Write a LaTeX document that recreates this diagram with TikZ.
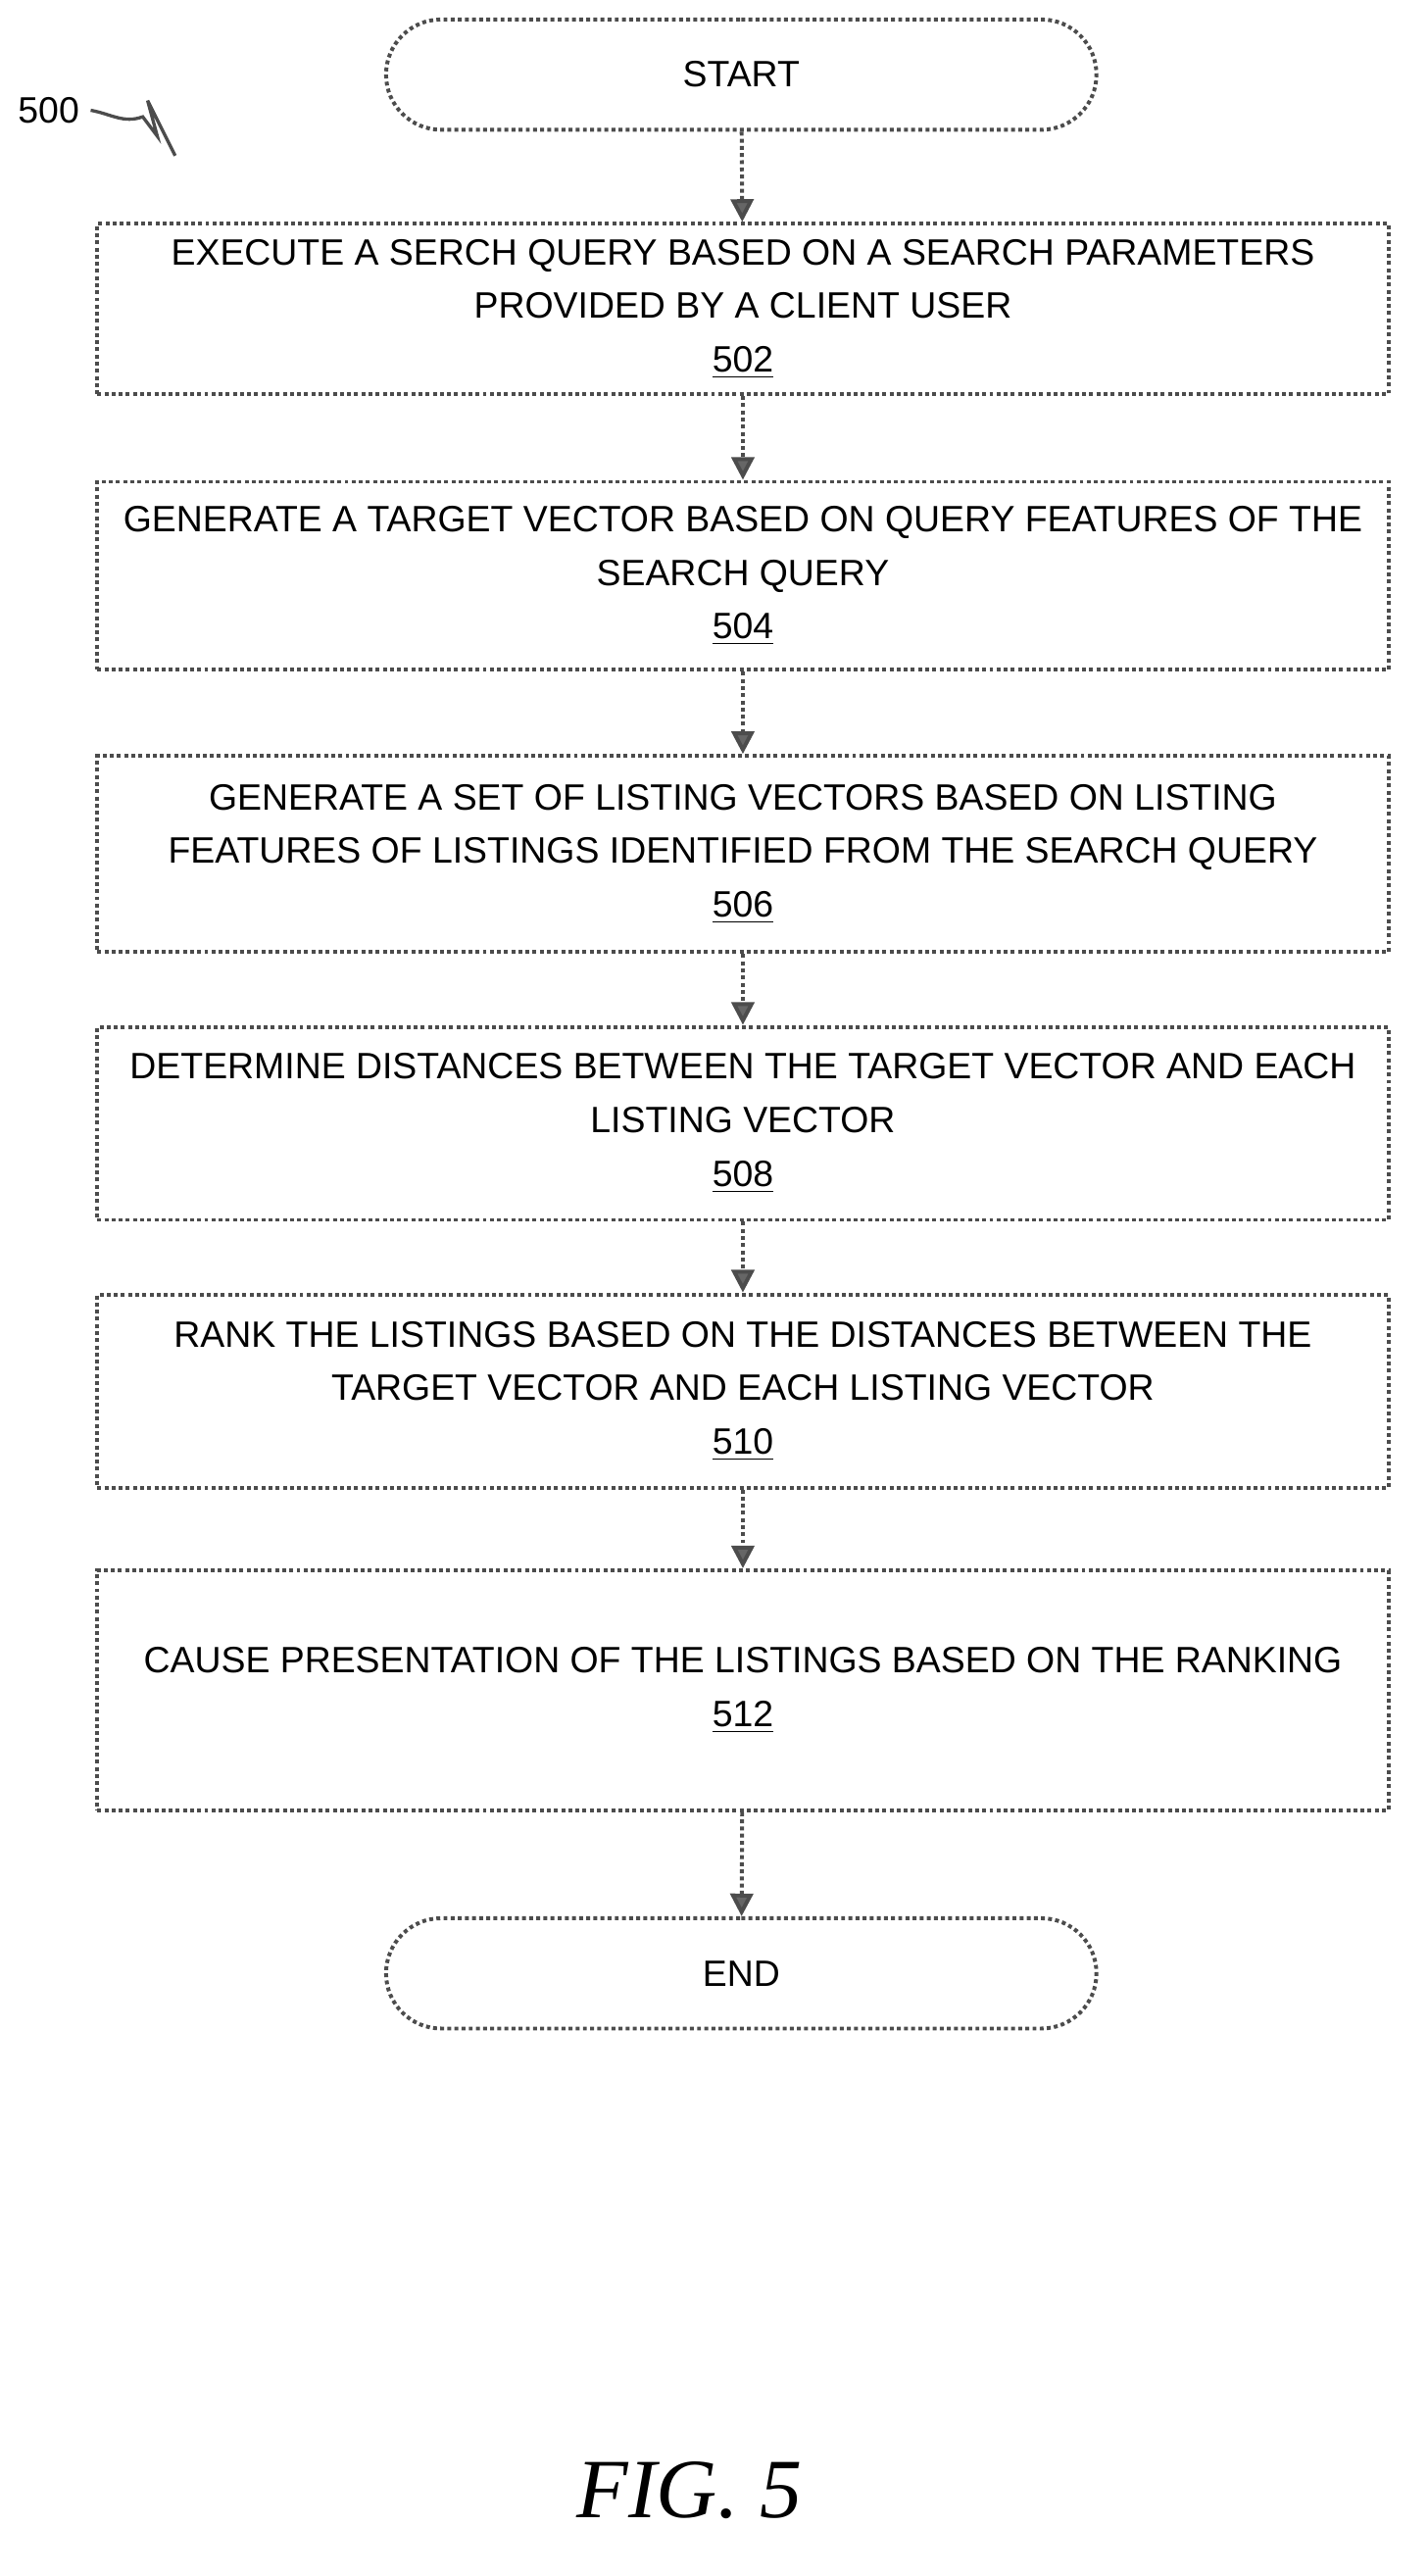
\documentclass[tikz,border=0pt]{standalone}
\usepackage{fontspec}
\setmainfont{Liberation Sans}
\newfontfamily\figfont{Liberation Serif}
\usetikzlibrary{arrows.meta,positioning,shapes.misc,decorations.pathmorphing}
\tikzset{
    stepbox/.style = {draw = black!70, line width = 1.2pt, densely dotted, minimum width = 398pt, align = center, font = \fontsize{11.3}{16.5}\selectfont, inner sep = 0pt},
    term/.style = {stepbox, rounded rectangle, minimum width = 219pt, minimum height = 34pt},
    flow/.style = {draw = black!70, line width = 1.2pt, densely dotted, -{Triangle[length = 7pt, width = 7pt, fill = black!60]}}
}
\begin{document}
\begin{tikzpicture}[x = 0.5pt, y = -0.5pt]
        \useasboundingbox (0,0) rectangle (880,1588);
        \node[term] (start) at (457,46) {START};
        \node[stepbox, minimum height = 52.5pt] (s502) at (458,190.5) {EXECUTE A SERCH QUERY BASED ON A SEARCH PARAMETERS\\PROVIDED BY A CLIENT USER\\\underline{502}};
        \node[stepbox, minimum height = 58pt] (s504) at (458,355) {GENERATE A TARGET VECTOR BASED ON QUERY FEATURES OF THE\\SEARCH QUERY\\\underline{504}};
        \node[stepbox, minimum height = 60.5pt] (s506) at (458,526.5) {GENERATE A SET OF LISTING VECTORS BASED ON LISTING\\FEATURES OF LISTINGS IDENTIFIED FROM THE SEARCH QUERY\\\underline{506}};
        \node[stepbox, minimum height = 59.5pt] (s508) at (458,692.5) {DETERMINE DISTANCES BETWEEN THE TARGET VECTOR AND EACH\\LISTING VECTOR\\\underline{508}};
        \node[stepbox, minimum height = 59.5pt] (s510) at (458,857.5) {RANK THE LISTINGS BASED ON THE DISTANCES BETWEEN THE\\TARGET VECTOR AND EACH LISTING VECTOR\\\underline{510}};
        \node[stepbox, minimum height = 74pt] (s512) at (458,1042) {CAUSE PRESENTATION OF THE LISTINGS BASED ON THE RANKING\\\underline{512}};
        \node[term] (end) at (457,1216.5) {END};
        % connectors
        \draw[flow] (start) -- (s502);
        \draw[flow] (s502) -- (s504);
        \draw[flow] (s504) -- (s506);
        \draw[flow] (s506) -- (s508);
        \draw[flow] (s508) -- (s510);
        \draw[flow] (s510) -- (s512);
        \draw[flow] (s512) -- (end);
        % label and caption
        \node[font = \fontsize{11.3}{13}\selectfont] (lbl) at (30,68) {500};
        \coordinate (lblend) at (108,96);
        \draw[black!70, line width = 1pt] (lbl.east) to[out = -10, in = 200] (88,72) -- (97,84) -- (91,62) -- (lblend);
        \node[font = \figfont\itshape\fontsize{26}{30}\selectfont] (fig) at (425,1535) {FIG. 5};
\end{tikzpicture}
\end{document}
